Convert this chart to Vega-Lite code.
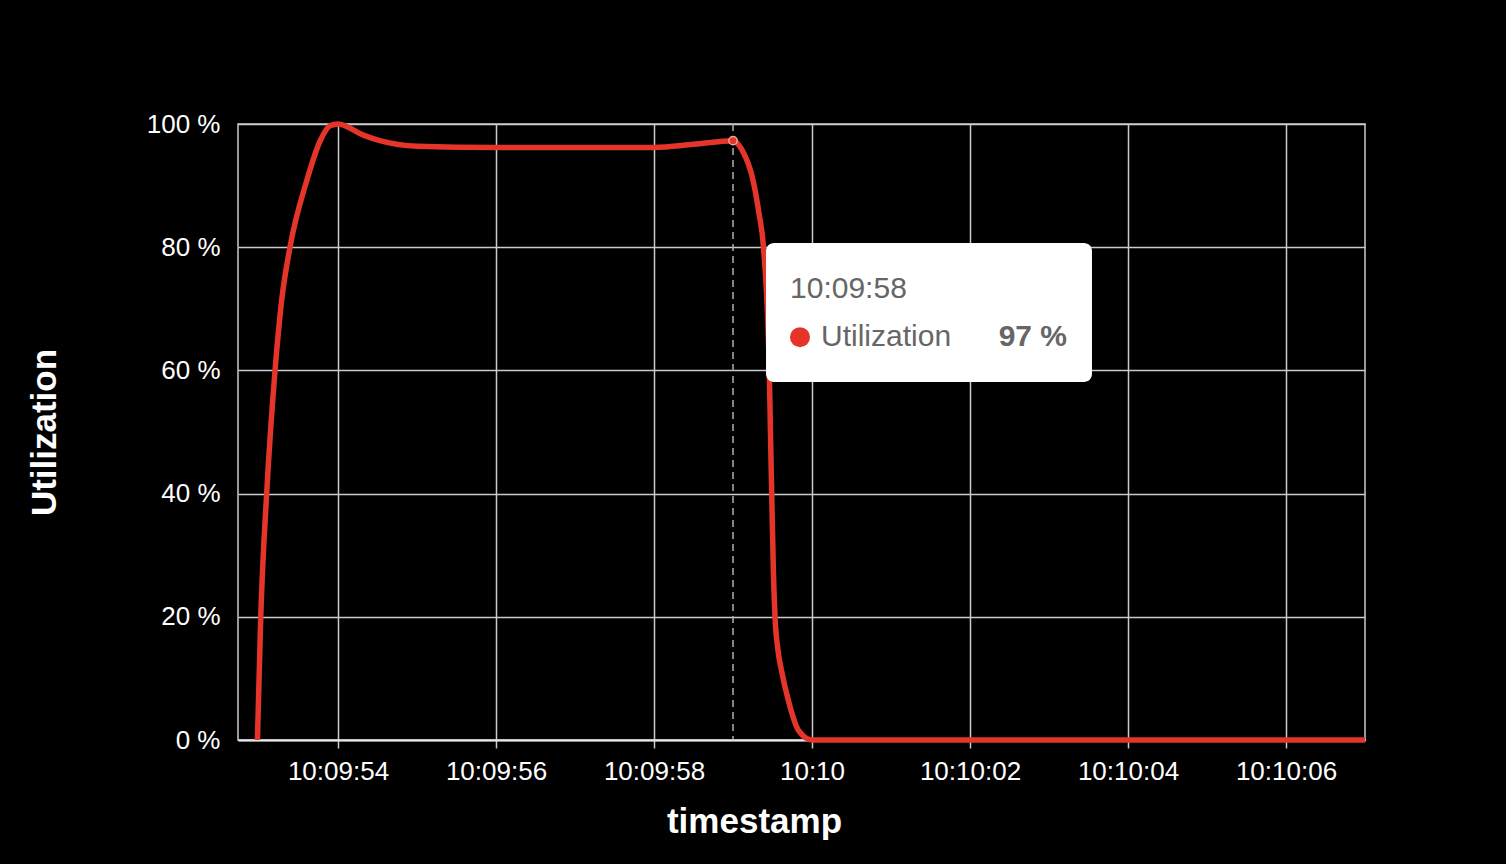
{
  "$schema": "https://vega.github.io/schema/vega-lite/v6.json",
  "description": "Utilization over time with a hover tooltip",
  "width": 1127,
  "height": 616,
  "autosize": {"type": "none"},
  "padding": {"left": 238, "top": 124, "right": 141, "bottom": 124},
  "background": "#000000",
  "datasets": {
    "util": [
      {"timestamp": "2024-01-01T10:09:52.980", "value": 0},
      {"timestamp": "2024-01-01T10:09:53.022", "value": 20},
      {"timestamp": "2024-01-01T10:09:53.097", "value": 40},
      {"timestamp": "2024-01-01T10:09:53.203", "value": 60},
      {"timestamp": "2024-01-01T10:09:53.287", "value": 71.4},
      {"timestamp": "2024-01-01T10:09:53.392", "value": 80},
      {"timestamp": "2024-01-01T10:09:53.604", "value": 90.8},
      {"timestamp": "2024-01-01T10:09:53.772", "value": 97.2},
      {"timestamp": "2024-01-01T10:09:53.899", "value": 99.7},
      {"timestamp": "2024-01-01T10:09:54.000", "value": 100},
      {"timestamp": "2024-01-01T10:09:54.320", "value": 98.2},
      {"timestamp": "2024-01-01T10:09:54.530", "value": 97.3},
      {"timestamp": "2024-01-01T10:09:55.000", "value": 96.4},
      {"timestamp": "2024-01-01T10:09:56.000", "value": 96.2},
      {"timestamp": "2024-01-01T10:09:57.000", "value": 96.2},
      {"timestamp": "2024-01-01T10:09:58.000", "value": 96.2},
      {"timestamp": "2024-01-01T10:09:58.500", "value": 96.7},
      {"timestamp": "2024-01-01T10:09:59.000", "value": 97.3},
      {"timestamp": "2024-01-01T10:09:59.114", "value": 95.8},
      {"timestamp": "2024-01-01T10:09:59.253", "value": 90.9},
      {"timestamp": "2024-01-01T10:09:59.329", "value": 85.5},
      {"timestamp": "2024-01-01T10:09:59.386", "value": 80},
      {"timestamp": "2024-01-01T10:09:59.459", "value": 60},
      {"timestamp": "2024-01-01T10:09:59.474", "value": 50},
      {"timestamp": "2024-01-01T10:09:59.490", "value": 40},
      {"timestamp": "2024-01-01T10:09:59.510", "value": 28},
      {"timestamp": "2024-01-01T10:09:59.532", "value": 20},
      {"timestamp": "2024-01-01T10:09:59.565", "value": 15},
      {"timestamp": "2024-01-01T10:09:59.612", "value": 11.4},
      {"timestamp": "2024-01-01T10:09:59.709", "value": 6},
      {"timestamp": "2024-01-01T10:09:59.827", "value": 1.6},
      {"timestamp": "2024-01-01T10:10:00.000", "value": 0},
      {"timestamp": "2024-01-01T10:10:01.000", "value": 0},
      {"timestamp": "2024-01-01T10:10:02.000", "value": 0},
      {"timestamp": "2024-01-01T10:10:03.000", "value": 0},
      {"timestamp": "2024-01-01T10:10:04.000", "value": 0},
      {"timestamp": "2024-01-01T10:10:05.000", "value": 0},
      {"timestamp": "2024-01-01T10:10:06.000", "value": 0},
      {"timestamp": "2024-01-01T10:10:07.000", "value": 0}
    ],
    "hover": [
      {"timestamp": "2024-01-01T10:09:59.000", "value": 97.3}
    ],
    "box": [
      {"start": "2024-01-01T10:09:59.418", "end": "2024-01-01T10:10:03.544", "top": 80.7, "bottom": 58.1}
    ],
    "labels": [
      {"timestamp": "2024-01-01T10:09:59.722", "value": 73.2, "text": "10:09:58", "kind": "time"},
      {"timestamp": "2024-01-01T10:10:00.114", "value": 65.4, "text": "Utilization", "kind": "series"},
      {"timestamp": "2024-01-01T10:10:03.228", "value": 65.4, "text": "97 %", "kind": "value"}
    ],
    "swatch": [
      {"timestamp": "2024-01-01T10:09:59.848", "value": 65.4}
    ]
  },
  "layer": [
    {
      "data": {"name": "util"},
      "mark": {"type": "line", "interpolate": "monotone", "color": "#e5352a", "strokeWidth": 5.5},
      "encoding": {
        "x": {
          "field": "timestamp",
          "type": "temporal",
          "title": "timestamp",
          "scale": {
            "domain": [
              {"year": 2024, "month": 1, "date": 1, "hours": 10, "minutes": 9, "seconds": 52, "milliseconds": 734},
              {"year": 2024, "month": 1, "date": 1, "hours": 10, "minutes": 10, "seconds": 7}
            ],
            "nice": false
          },
          "axis": {
            "values": [
              {"year": 2024, "month": 1, "date": 1, "hours": 10, "minutes": 9, "seconds": 54},
              {"year": 2024, "month": 1, "date": 1, "hours": 10, "minutes": 9, "seconds": 56},
              {"year": 2024, "month": 1, "date": 1, "hours": 10, "minutes": 9, "seconds": 58},
              {"year": 2024, "month": 1, "date": 1, "hours": 10, "minutes": 10, "seconds": 0},
              {"year": 2024, "month": 1, "date": 1, "hours": 10, "minutes": 10, "seconds": 2},
              {"year": 2024, "month": 1, "date": 1, "hours": 10, "minutes": 10, "seconds": 4},
              {"year": 2024, "month": 1, "date": 1, "hours": 10, "minutes": 10, "seconds": 6}
            ],
            "format": "%H:%M:%S",
            "labelExpr": "datum.label == '10:10:00' ? '10:10' : datum.label",
            "tickSize": 8,
            "labelPadding": 10,
            "titlePadding": 20,
            "titleX": 516,
            "titleAlign": "center"
          }
        },
        "y": {
          "field": "value",
          "type": "quantitative",
          "title": "Utilization",
          "scale": {"domain": [0, 100], "nice": false},
          "axis": {
            "values": [0, 20, 40, 60, 80, 100],
            "labelExpr": "datum.value + ' %'",
            "ticks": false,
            "labelPadding": 18,
            "titlePadding": 84
          }
        }
      }
    },
    {
      "data": {"name": "hover"},
      "mark": {"type": "rule", "color": "#b0b0b0", "strokeWidth": 1.5, "strokeDash": [7, 5]},
      "encoding": {
        "x": {"field": "timestamp", "type": "temporal"}
      }
    },
    {
      "data": {"name": "hover"},
      "mark": {"type": "point", "filled": true, "size": 70, "color": "#e5352a", "stroke": "#f3a59c", "strokeWidth": 1.5, "opacity": 1},
      "encoding": {
        "x": {"field": "timestamp", "type": "temporal"},
        "y": {"field": "value", "type": "quantitative"}
      }
    },
    {
      "data": {"name": "box"},
      "mark": {"type": "rect", "color": "#ffffff", "cornerRadius": 8, "opacity": 1},
      "encoding": {
        "x": {"field": "start", "type": "temporal"},
        "x2": {"field": "end"},
        "y": {"field": "top", "type": "quantitative"},
        "y2": {"field": "bottom"}
      }
    },
    {
      "data": {"name": "swatch"},
      "mark": {"type": "circle", "size": 400, "color": "#e5352a", "opacity": 1},
      "encoding": {
        "x": {"field": "timestamp", "type": "temporal"},
        "y": {"field": "value", "type": "quantitative"}
      }
    },
    {
      "data": {"name": "labels"},
      "transform": [{"filter": "datum.kind != 'value'"}],
      "mark": {"type": "text", "align": "left", "baseline": "middle", "fontSize": 30, "font": "Liberation Sans", "color": "#666666"},
      "encoding": {
        "x": {"field": "timestamp", "type": "temporal"},
        "y": {"field": "value", "type": "quantitative"},
        "text": {"field": "text"}
      }
    },
    {
      "data": {"name": "labels"},
      "transform": [{"filter": "datum.kind == 'value'"}],
      "mark": {"type": "text", "align": "right", "baseline": "middle", "fontSize": 30, "fontWeight": "bold", "font": "Liberation Sans", "color": "#666666"},
      "encoding": {
        "x": {"field": "timestamp", "type": "temporal"},
        "y": {"field": "value", "type": "quantitative"},
        "text": {"field": "text"}
      }
    }
  ],
  "config": {
    "view": {"stroke": "#c9cbd2", "strokeWidth": 1.5},
    "font": "Liberation Sans",
    "axis": {
      "gridColor": "#c9cbd2",
      "gridWidth": 1.5,
      "gridOpacity": 1,
      "domainColor": "#e6e6ea",
      "domainWidth": 2,
      "tickColor": "#c9cbd2",
      "tickWidth": 1.5,
      "labelColor": "#ffffff",
      "labelFontSize": 26,
      "labelFont": "Liberation Sans",
      "titleColor": "#ffffff",
      "titleFontSize": 35,
      "titleFontWeight": "bold",
      "titleFont": "Liberation Sans"
    },
    "axisY": {"domain": false}
  }
}
